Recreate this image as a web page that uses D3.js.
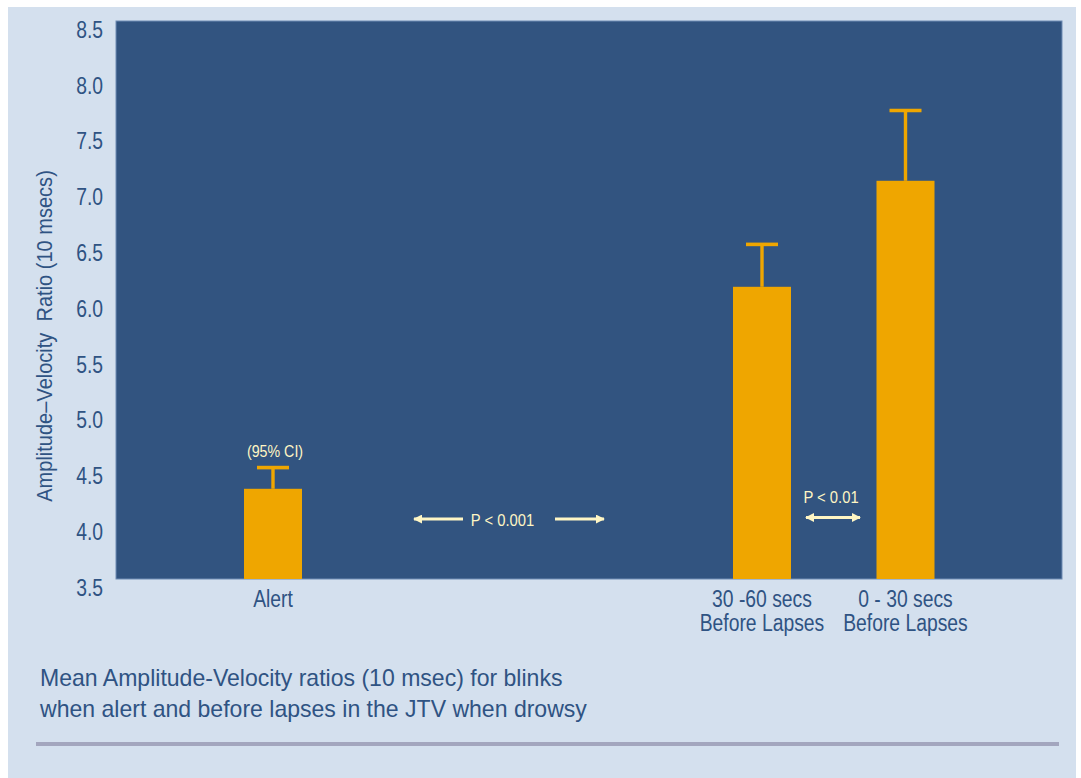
<!DOCTYPE html>
<html>
<head>
<meta charset="utf-8">
<script src="https://cdn.jsdelivr.net/npm/d3@7"></script>
<style>
  html, body { margin: 0; padding: 0; background: #ffffff; }
  svg { display: block; }
  text { font-family: "Liberation Sans", Arial, sans-serif; }
</style>
</head>
<body>
<svg id="chart" width="1081" height="778"></svg>
<script>
// Blink amplitude-velocity ratios by condition
const categories = ["Alert", "30 -60 secs|Before Lapses", "0 - 30 secs|Before Lapses"];
const meanValues = [4.38, 6.19, 7.14];
const upperCI = [4.57, 6.57, 7.77];
const yTicks = [3.5, 4.0, 4.5, 5.0, 5.5, 6.0, 6.5, 7.0, 7.5, 8.0, 8.5];
const yTitle = "Amplitude\u2013Velocity  Ratio (10 msecs)";
const ciLabel = "(95% CI)";
const pLabels = ["P < 0.001", "P < 0.01"];
const caption = [
  "Mean Amplitude-Velocity ratios (10 msec) for blinks",
  "when alert and before lapses in the JTV when drowsy"
];

const svg = d3.select("#chart");

const C = {
  panel: "#d4e0ee",
  plot: "#325480",
  plotEdge: "#6f8cb4",
  bar: "#efa600",
  text: "#2f5383",
  note: "#fff6c4",
  rule: "#a3a6be"
};

// squeeze text horizontally to imitate a condensed face
function condense(sel, factor) {
  sel.each(function () {
    const w = this.getComputedTextLength();
    d3.select(this).attr("textLength", w * factor).attr("lengthAdjust", "spacingAndGlyphs");
  });
}

// panel background
svg.append("rect").attr("x", 8).attr("y", 7).attr("width", 1068).attr("height", 771).attr("fill", C.panel);

// plot frame
const frame = { left: 116, right: 1062, top: 21, bottom: 579 };
svg.append("rect")
  .attr("x", frame.left).attr("y", frame.top)
  .attr("width", frame.right - frame.left).attr("height", frame.bottom - frame.top)
  .attr("fill", C.plot).attr("stroke", C.plotEdge).attr("stroke-width", 1);

const y = d3.scaleLinear().domain([3.5, 8.5]).range([587, 29]);
const x = d3.scaleOrdinal().domain(categories).range([273, 762, 905.5]);
const barW = 58;

// y axis: tick labels only
const yAxis = d3.axisLeft(y).tickValues(yTicks).tickFormat(d3.format(".1f")).tickSize(0).tickPadding(0);
const gy = svg.append("g").attr("transform", "translate(103,0)").call(yAxis);
gy.select(".domain").remove();
gy.selectAll("text")
  .attr("fill", C.text).attr("font-size", 23)
  .attr("font-family", null)
  .attr("dy", "0.36em");
gy.attr("font-family", null);
condense(gy.selectAll("text"), 0.84);

// y axis title
const title = svg.append("text")
  .attr("transform", `translate(52,${336}) rotate(-90)`)
  .attr("text-anchor", "middle")
  .attr("font-size", 22)
  .attr("fill", C.text)
  .style("white-space", "pre")
  .text(yTitle);
condense(title, 0.91);

// error bars (upper whisker only)
const eb = svg.append("g").selectAll("g").data(categories).join("g");
eb.append("line")
  .attr("x1", d => x(d)).attr("x2", d => x(d))
  .attr("y1", (d, i) => y(meanValues[i])).attr("y2", (d, i) => y(upperCI[i]))
  .attr("stroke", C.bar).attr("stroke-width", 3.4);
eb.append("line")
  .attr("x1", d => x(d) - 16).attr("x2", d => x(d) + 16)
  .attr("y1", (d, i) => y(upperCI[i])).attr("y2", (d, i) => y(upperCI[i]))
  .attr("stroke", C.bar).attr("stroke-width", 3.6);

// bars
svg.append("g").selectAll("rect").data(categories).join("rect")
  .attr("x", d => x(d) - barW / 2)
  .attr("width", barW)
  .attr("y", (d, i) => y(meanValues[i]))
  .attr("height", (d, i) => frame.bottom - y(meanValues[i]))
  .attr("fill", C.bar);

// category labels, one text per line
const catLines = categories.flatMap(c => c.split("|").map((s, i) => ({ s, c, i })));
const cl = svg.append("g").selectAll("text").data(catLines).join("text")
  .attr("x", d => x(d.c))
  .attr("y", d => 607 + d.i * 23.5)
  .attr("text-anchor", "middle")
  .attr("font-size", 23)
  .attr("fill", C.text)
  .text(d => d.s);
condense(cl, 0.84);

// CI note
const ci = svg.append("text")
  .attr("x", x(categories[0]) + 2).attr("y", 457)
  .attr("text-anchor", "middle").attr("font-size", 16).attr("fill", C.note)
  .text(ciLabel);
condense(ci, 0.89);

// arrow heads
const defs = svg.append("defs");
defs.append("marker").attr("id", "head").attr("viewBox", "0 0 10 10")
  .attr("refX", 9).attr("refY", 5).attr("markerWidth", 3).attr("markerHeight", 3)
  .attr("markerUnits", "strokeWidth").attr("orient", "auto-start-reverse")
  .append("path").attr("d", "M0,0 L10,5 L0,10 Z").attr("fill", C.note);

const ann = svg.append("g");
// P < 0.001 between Alert and the lapse groups
ann.append("line").attr("x1", 463).attr("x2", 414).attr("y1", 519).attr("y2", 519)
  .attr("stroke", C.note).attr("stroke-width", 3).attr("marker-end", "url(#head)");
ann.append("line").attr("x1", 555).attr("x2", 604).attr("y1", 519).attr("y2", 519)
  .attr("stroke", C.note).attr("stroke-width", 3).attr("marker-end", "url(#head)");
const p1 = ann.append("text").attr("x", 502.5).attr("y", 526)
  .attr("text-anchor", "middle").attr("font-size", 17).attr("fill", C.note)
  .text(pLabels[0]);
// P < 0.01 between the two lapse groups
ann.append("line").attr("x1", 806).attr("x2", 860).attr("y1", 517.5).attr("y2", 517.5)
  .attr("stroke", C.note).attr("stroke-width", 3)
  .attr("marker-start", "url(#head)").attr("marker-end", "url(#head)");
const p2 = ann.append("text").attr("x", 831).attr("y", 503)
  .attr("text-anchor", "middle").attr("font-size", 17).attr("fill", C.note)
  .text(pLabels[1]);
condense(p1, 0.87);
condense(p2, 0.87);

// caption
const cap = svg.append("g").selectAll("text").data(caption).join("text")
  .attr("x", 40).attr("y", (d, i) => 686 + i * 31)
  .attr("font-size", 24).attr("fill", C.text)
  .text(d => d);
condense(cap, 0.96);

// rule under caption
svg.append("rect").attr("x", 36).attr("y", 742).attr("width", 1023).attr("height", 4).attr("fill", C.rule);
</script>
</body>
</html>
